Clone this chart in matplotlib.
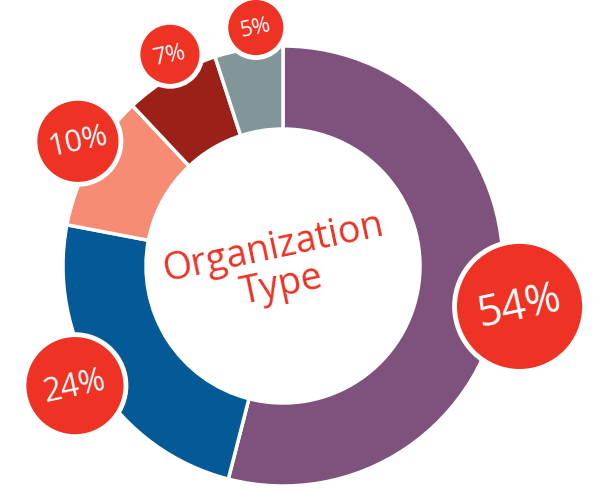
import numpy as np
import matplotlib
matplotlib.use('Agg')
import matplotlib.pyplot as plt
from matplotlib.patches import Circle

# slice data, clockwise from 12 o'clock
labels = ['54%', '24%', '10%', '7%', '5%']
values = [54, 24, 10, 7, 5]
colors = ['#7E527C', '#045A96', '#F58C73', '#9B2018', '#829699']

RED = '#EE3224'
CX, CY = 283, 222      # donut centre in pixel units
R_OUT = 220
R_IN = 137
bubble_r = [65, 51, 43, 32, 30]
font_sz = [31, 23, 22, 17, 16]
TILT = 12.0            # text rotation in deg
FONT = ['Open Sans', 'DejaVu Sans']

fig = plt.figure(figsize=(5.94, 4.89), dpi=100, facecolor='w')
ax = fig.add_axes([0, 0, 1, 1])

wedges, _ = ax.pie(values, colors=colors, startangle=90, counterclock=False,
                   radius=R_OUT, center=(CX, CY), frame=True,
                   wedgeprops=dict(width=R_OUT-R_IN, edgecolor='w', linewidth=2.5))
ax.set_xlim(0, 594)
ax.set_ylim(0, 489)
ax.set_aspect('equal')
ax.axis('off')

for w, lab, br, fs in zip(wedges, labels, bubble_r, font_sz):
    mid = np.radians(0.5*(w.theta1+w.theta2) - 2.5)
    d = 240
    bx = CX + d*np.cos(mid)
    by = CY + d*np.sin(mid)
    ax.add_patch(Circle((bx, by), br, facecolor=RED, edgecolor='w', linewidth=3.5, zorder=5))
    ax.text(bx, by, lab, color='w', fontsize=fs, ha='center', va='center',
            rotation=TILT, rotation_mode='anchor', family=FONT, zorder=6)

ax.text(CX-5, CY, 'Organization\nType', color=RED, fontsize=27, ha='center', va='center',
        rotation=TILT, rotation_mode='anchor', linespacing=1.0, family=FONT)

fig.savefig('out.png', dpi=100, facecolor='w')
